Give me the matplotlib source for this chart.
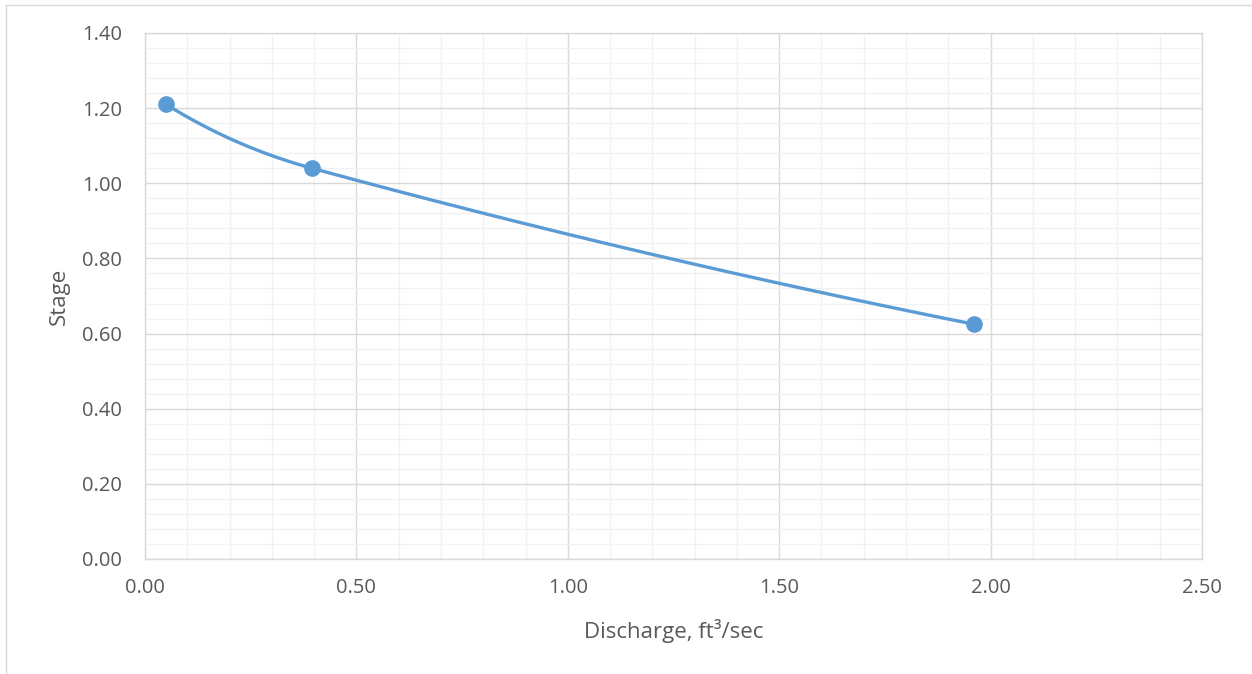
import numpy as np
import matplotlib
matplotlib.use("Agg")
import matplotlib.pyplot as plt
from matplotlib.ticker import MultipleLocator, FormatStrFormatter
from matplotlib.lines import Line2D

discharge = [0.05, 0.395, 1.96]
stage = [1.21, 1.04, 0.625]

x_label = "Discharge, ft³/sec"
y_label = "Stage"

LINE = "#5B9BD5"
TEXT = "#595959"
MAJOR = "#D9D9D9"
MINOR = "#F2F2F2"

plt.rcParams["font.family"] = ["Open Sans", "DejaVu Sans"]

fig = plt.figure(figsize=(12.52, 6.74), dpi=100)
ax = fig.add_axes([145 / 1252, 1 - 559 / 674, (1202 - 145) / 1252, (559 - 33) / 674])

ax.set_xlim(0, 2.5)
ax.set_ylim(0, 1.4)


def smooth_curve(xs, ys, n=80):
    """Bezier smoothing in screen space; tangents follow neighbouring points,
    handle lengths a third of each segment, end tangents mirrored about the chord."""
    x0, x1 = ax.get_xlim()
    y0, y1 = ax.get_ylim()
    pos = ax.get_position()
    w, h = pos.width * fig.get_figwidth(), pos.height * fig.get_figheight()
    P = np.column_stack([(np.asarray(xs) - x0) / (x1 - x0) * w,
                         (np.asarray(ys) - y0) / (y1 - y0) * h])
    m = len(P)
    unit = lambda v: v / np.linalg.norm(v)
    D = np.zeros_like(P)
    for i in range(1, m - 1):
        D[i] = unit(P[i + 1] - P[i - 1])
    c0 = unit(P[1] - P[0])
    D[0] = unit(2 * np.dot(c0, D[1]) * c0 - D[1])
    cn = unit(P[-1] - P[-2])
    D[-1] = unit(2 * np.dot(cn, D[-2]) * cn - D[-2])
    out = [P[0]]
    t = np.linspace(0, 1, n)[1:, None]
    for i in range(m - 1):
        p0, p3 = P[i], P[i + 1]
        L = np.linalg.norm(p3 - p0) / 3
        c1 = p0 + D[i] * L
        c2 = p3 - D[i + 1] * L
        seg = (1 - t) ** 3 * p0 + 3 * (1 - t) ** 2 * t * c1 + 3 * (1 - t) * t ** 2 * c2 + t ** 3 * p3
        out.extend(seg)
    out = np.array(out)
    return out[:, 0] / w * (x1 - x0) + x0, out[:, 1] / h * (y1 - y0) + y0


sx, sy = smooth_curve(discharge, stage)
ax.plot(sx, sy, color=LINE, lw=2.4, solid_capstyle="round", zorder=3)
ax.plot(discharge, stage, "o", color=LINE, ms=11, zorder=4)

ax.xaxis.set_major_locator(MultipleLocator(0.5))
ax.xaxis.set_minor_locator(MultipleLocator(0.1))
ax.yaxis.set_major_locator(MultipleLocator(0.2))
ax.yaxis.set_minor_locator(MultipleLocator(0.04))
ax.xaxis.set_major_formatter(FormatStrFormatter("%.2f"))
ax.yaxis.set_major_formatter(FormatStrFormatter("%.2f"))

ax.grid(which="minor", color=MINOR, lw=1.0, zorder=0)
ax.grid(which="major", color=MAJOR, lw=1.0, zorder=1)
ax.set_axisbelow(True)

for s in ax.spines.values():
    s.set_color(MAJOR)
    s.set_linewidth(1.0)

ax.tick_params(which="both", length=0, colors=TEXT, labelsize=14.5)
ax.tick_params(axis="x", pad=14)
ax.tick_params(axis="y", pad=16.5)

ax.set_xlabel(x_label, color=TEXT, fontsize=16, labelpad=15)
ax.set_ylabel(y_label, color=TEXT, fontsize=16, labelpad=9)

# outer chart frame edges
fig.add_artist(Line2D([6 / 1252, 1], [1 - 5 / 674, 1 - 5 / 674], transform=fig.transFigure, color=MAJOR, lw=1))
fig.add_artist(Line2D([6 / 1252, 6 / 1252], [0, 1 - 5 / 674], transform=fig.transFigure, color=MAJOR, lw=1))

fig.savefig("out.png", dpi=100, facecolor="white")
